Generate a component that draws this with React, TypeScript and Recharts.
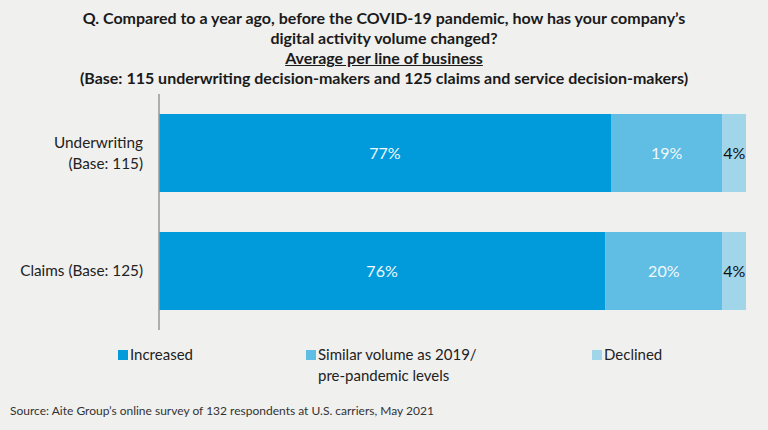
import { Bar, BarChart, LabelList, XAxis, YAxis } from "recharts";

const CATEGORIES = ["Underwriting (Base: 115)", "Claims (Base: 125)"];
const INCREASED = [77, 76];
const SIMILAR = [19, 20];
const DECLINED = [4, 4];

const data = CATEGORIES.map((name, i) => ({
  name,
  increased: INCREASED[i],
  similar: SIMILAR[i],
  declined: DECLINED[i],
}));

const FONT = "Lato, 'Open Sans', sans-serif";
const C1 = "#019bdb";
const C2 = "#60bde4";
const C3 = "#a0d5ea";

const pct = (v: any) => `${v}%`;

function CategoryTick(props: any) {
  const { x, y, payload } = props;
  const label: string = payload.value;
  const lines = label.startsWith("Underwriting")
    ? ["Underwriting", "(Base: 115)"]
    : [label];
  const lh = 21;
  const y0 = y - ((lines.length - 1) * lh) / 2;
  return (
    <text
      x={x}
      y={y0}
      textAnchor="end"
      fill="#222"
      fontSize={15.3}
      fontFamily={FONT}
    >
      {lines.map((l, i) => (
        <tspan key={i} x={x} y={y0 + i * lh} dy={5}>
          {l}
        </tspan>
      ))}
    </text>
  );
}

const legendItems = [
  { color: C1, left: 118, lines: ["Increased"] },
  { color: C2, left: 306, lines: ["Similar volume as 2019/", "pre-pandemic levels"] },
  { color: C3, left: 592, lines: ["Declined"] },
];

export default function App() {
  return (
    <div
      style={{
        position: "absolute",
        left: 0,
        top: 0,
        width: 768,
        height: 430,
        background: "#f0f0ef",
        fontFamily: FONT,
        color: "#222",
        overflow: "hidden",
      }}
    >
      <div
        style={{
          position: "absolute",
          top: 8,
          left: 0,
          width: 768,
          textAlign: "center",
          fontWeight: 700,
          fontSize: 16,
          lineHeight: "20px",
          color: "#1a1a1a",
        }}
      >
        <div>Q. Compared to a year ago, before the COVID-19 pandemic, how has your company’s</div>
        <div>digital activity volume changed?</div>
        <div style={{ textDecoration: "underline" }}>Average per line of business</div>
        <div>(Base: 115 underwriting decision-makers and 125 claims and service decision-makers)</div>
      </div>

      <div style={{ position: "absolute", left: 0, top: 0 }}>
        <BarChart
          width={768}
          height={430}
          data={data}
          layout="vertical"
          margin={{ top: 94, right: 22, bottom: 100, left: 0 }}
          barSize={78}
        >
          <XAxis type="number" domain={[0, 100]} hide />
          <YAxis
            type="category"
            dataKey="name"
            width={159}
            axisLine={{ stroke: "#999", strokeWidth: 1.5 }}
            tickLine={false}
            tickMargin={10}
            tick={<CategoryTick />}
          />
          <Bar dataKey="increased" stackId="a" fill={C1} isAnimationActive={false}>
            <LabelList
              dataKey="increased"
              position="center"
              formatter={pct}
              fill="#f2f9fd"
              fontSize={16}
              fontFamily={FONT}
            />
          </Bar>
          <Bar dataKey="similar" stackId="a" fill={C2} isAnimationActive={false}>
            <LabelList
              dataKey="similar"
              position="center"
              formatter={pct}
              fill="#f2f9fd"
              fontSize={16}
              fontFamily={FONT}
            />
          </Bar>
          <Bar dataKey="declined" stackId="a" fill={C3} isAnimationActive={false}>
            <LabelList
              dataKey="declined"
              position="center"
              formatter={pct}
              fill="#111"
              fontSize={16}
              fontFamily={FONT}
            />
          </Bar>
        </BarChart>
      </div>

      {legendItems.map((it) => (
        <div
          key={it.left}
          style={{
            position: "absolute",
            left: it.left,
            top: 344,
            display: "flex",
            alignItems: "flex-start",
            fontSize: 15,
            lineHeight: "21px",
          }}
        >
          <span
            style={{
              display: "inline-block",
              width: 10,
              height: 10,
              background: it.color,
              marginTop: 6,
              marginRight: 2,
            }}
          />
          <div>
            {it.lines.map((l) => (
              <div key={l}>{l}</div>
            ))}
          </div>
        </div>
      ))}

      <div
        style={{
          position: "absolute",
          left: 10,
          top: 403,
          fontSize: 12,
          color: "#333",
        }}
      >
        Source: Aite Group’s online survey of 132 respondents at U.S. carriers, May 2021
      </div>
    </div>
  );
}
